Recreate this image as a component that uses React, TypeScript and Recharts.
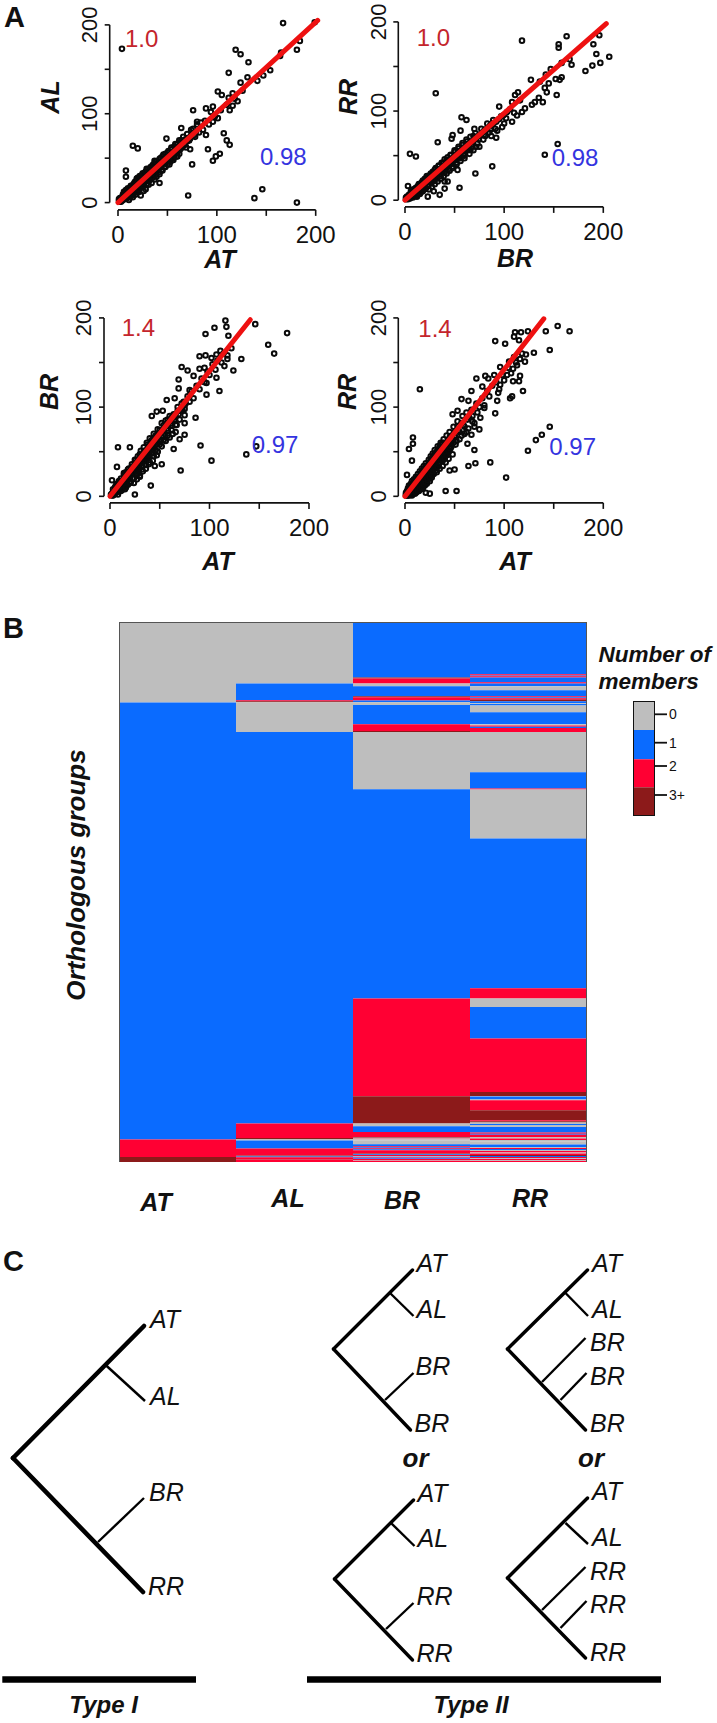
import { BarChart, Bar, Cell, ReferenceLine, Scatter, ScatterChart, XAxis, YAxis } from 'recharts'

const FONT = '"Liberation Sans", Arial, sans-serif'

// Panel A: expression values, as [x, y] pairs
const alVsAt = [[4,173],[167,202],[199,203],[119,172],[124,167],[132,158],[112,146],[164,165],[165,169],[181,172],[184,182],[154,149],[147,143],[141,137],[131,141],[124,135],[101,125],[105,121],[112,118],[116,123],[121,114],[116,109],[113,104],[96,108],[89,106],[94,102],[76,104],[101,95],[96,91],[80,91],[64,84],[74,82],[89,76],[107,78],[110,70],[113,65],[91,60],[103,55],[99,52],[96,47],[75,43],[73,60],[15,64],[20,61],[49,72],[8,36],[8,29],[42,22],[71,8],[138,5],[146,15],[181,0],
  [1,2],[2,5],[2,1],[3,1],[4,6],[4,2],[5,3],[5,9],[6,9],[6,4],[7,4],[7,12],[8,11],[8,6],[9,5],[9,14],[10,14],[10,7],[11,3],[11,10],[12,16],[12,8],[13,9],[13,19],[14,19],[14,11],[15,6],[15,16],[16,21],[16,12],[17,13],[17,23],[18,24],[18,9],[19,16],[19,27],[20,26],[20,14],[21,12],[21,24],[22,28],[22,17],[23,8],[23,20],[24,30],[24,22],[25,19],[25,33],[26,13],[26,27],[27,33],[27,23],[28,15],[29,38],[29,25],[30,26],[31,20],[31,34],[32,36],[33,28],[34,22],[35,42],[36,31],[37,26],[37,47],[38,46],[38,35],[39,29],[40,44],[41,36],[42,32],[43,50],[44,40],[45,36],[46,54],[47,44],[48,40],[50,56],[51,47],[52,43],[54,60],[55,51],[56,48],[58,66],[59,56],[60,52],[62,70],[63,60],[65,62],[66,74],[68,65],[69,62],[70,77],[72,70],[74,75],[76,83],[78,74],[80,88],[82,79],[84,90],[86,82],[88,92],[92,88],[98,97],[104,104],[110,110],[118,117],[126,126],
  [1,4],[3,5],[3,3],[5,7],[6,6],[7,7],[7,9],[8,8],[9,9],[9,11],[10,10],[10,12],[11,12],[11,7],[12,11],[12,13],[13,13],[13,15],[14,14],[14,16],[15,14],[15,18],[16,15],[16,18],[17,17],[17,20],[18,18],[18,21],[19,19],[19,22],[20,19],[20,23],[21,21],[21,18],[22,22],[22,25],[23,23],[23,26],[24,24],[24,27],[25,23],[25,28],[26,25],[26,30],[27,27],[28,28],[28,31],[29,29],[29,33],[30,30],[30,34],[31,30],[32,32],[32,29],[33,33],[33,37],[34,34],[34,38],[35,35],[35,32],[36,36],[36,40],[37,37],[38,38],[38,42],[39,40],[40,40],[40,37],[41,42],[42,42],[42,46],[43,44],[44,45],[45,45],[45,49],[46,47],[47,48],[48,50],[49,48],[50,50],[50,46],[52,53],[53,50],[54,55],[55,56],[56,57],[57,53],[58,59],[60,60],[61,58],[62,64],[64,64],[65,68],[67,66],[68,71],[70,69],[71,73],[73,72],[75,78],[77,76],[79,80],
  [6,12],[8,14],[10,16],[12,6],[14,8],[16,10],[18,12],[20,28],[21,15],[22,30],[24,17],[25,32],[26,19],[28,35],[29,21],[30,37],[32,25],[33,40],[35,28],[36,43],[38,31],[39,46],[41,34],[42,49],[44,37],[45,52],[47,40],[48,55],[50,43],[51,58],[53,46],[54,62],[56,50],[57,63],[59,52],[60,66],[62,55],[64,70]]

const rrVsBr = [[118,179],[163,184],[196,185],[190,175],[155,175],[155,171],[193,164],[206,161],[197,154],[189,151],[182,145],[168,152],[166,158],[158,154],[147,147],[142,141],[158,138],[152,136],[156,135],[127,135],[136,133],[145,131],[141,126],[143,121],[153,118],[31,120],[114,121],[111,118],[135,115],[131,110],[139,110],[128,107],[108,110],[121,103],[118,99],[113,95],[95,105],[103,99],[57,93],[62,90],[108,88],[98,82],[70,80],[56,78],[92,70],[48,73],[47,69],[33,65],[154,63],[141,51],[5,52],[11,49],[88,38],[53,34],[71,30],[55,14],[40,21],[43,21],[40,13],[35,6],[29,10],[23,4],[3,16],
  [1,1],[2,4],[3,1],[4,6],[5,2],[6,8],[7,4],[8,3],[9,12],[9,6],[10,8],[11,14],[12,6],[13,16],[14,9],[15,7],[15,18],[16,12],[17,20],[18,10],[19,14],[20,24],[21,13],[22,26],[23,17],[24,12],[25,28],[26,20],[27,15],[28,32],[29,23],[30,18],[31,36],[32,26],[33,21],[34,38],[35,29],[36,24],[37,42],[38,32],[39,27],[40,46],[41,35],[42,30],[43,48],[44,38],[45,33],[46,51],[47,41],[48,36],[50,56],[51,45],[52,40],[54,60],[55,48],[56,44],[58,64],[59,52],[60,47],[62,68],[63,56],[65,52],[66,71],[68,60],[69,56],[71,75],[73,64],[75,60],[77,80],[79,68],[81,72],[83,86],[85,76],[87,72],[89,90],[91,80],[93,78],[97,94],[100,86],[102,92],[106,102],[110,98],[116,112],
  [1,3],[2,2],[3,3],[4,3],[5,5],[6,5],[7,7],[8,7],[8,9],[9,9],[10,10],[10,12],[11,10],[12,12],[12,9],[13,12],[14,14],[14,12],[15,14],[16,16],[16,14],[17,16],[17,14],[18,18],[18,15],[19,18],[20,20],[20,17],[21,20],[21,23],[22,21],[23,23],[23,20],[24,23],[24,26],[25,24],[25,21],[26,25],[27,27],[27,24],[28,27],[29,28],[29,31],[30,29],[30,26],[31,30],[32,31],[32,28],[33,32],[33,35],[34,33],[35,34],[35,31],[36,35],[37,36],[37,33],[38,37],[39,38],[39,41],[40,39],[41,40],[41,37],[42,41],[43,42],[44,43],[44,40],[45,44],[46,45],[47,46],[47,43],[48,47],[49,48],[50,49],[50,46],[51,50],[52,51],[53,52],[54,53],[54,50],[56,55],[57,54],[58,57],[60,59],[60,55],[62,61],[64,63],[64,59],[66,65],[68,66],[68,63],[70,68],[72,70],[74,72],[74,68],[76,74],[78,76],[80,78],[80,74],[83,81],[86,84],[86,79],[89,86],[92,88],[95,91],[99,95],
  [6,10],[8,12],[10,5],[12,4],[14,18],[16,9],[18,22],[20,13],[22,27],[24,17],[26,30],[28,21],[30,34],[32,24],[34,39],[36,27],[38,42],[40,31],[42,45],[44,35],[46,50],[48,38],[50,54],[52,42],[54,58],[56,47],[58,62],[60,50],[63,66],[66,56],[69,72],[72,60]]

const brVsAt = [[116,197],[117,190],[105,189],[96,182],[119,180],[146,193],[178,183],[159,170],[165,160],[132,154],[122,166],[111,163],[90,157],[96,158],[102,155],[107,159],[118,154],[72,145],[78,141],[90,143],[95,144],[124,141],[115,146],[84,135],[69,131],[107,133],[97,127],[69,121],[80,119],[110,118],[97,114],[57,108],[65,110],[75,98],[86,88],[75,91],[75,82],[47,95],[53,96],[42,90],[67,80],[75,69],[63,70],[70,64],[91,57],[64,53],[8,55],[20,55],[147,56],[137,47],[102,40],[52,36],[45,34],[71,29],[41,12],[25,2],[7,33],[2,18],[30,22],
  [2,3],[3,8],[4,2],[5,10],[6,5],[7,14],[8,8],[8,2],[9,17],[10,11],[11,6],[11,20],[12,14],[13,9],[14,24],[15,17],[15,8],[16,27],[17,20],[18,13],[19,31],[20,24],[21,16],[22,36],[22,28],[23,20],[24,15],[25,41],[25,33],[26,25],[27,19],[28,45],[28,37],[29,30],[30,23],[31,51],[31,42],[32,34],[33,28],[34,55],[35,47],[35,39],[36,31],[37,60],[38,52],[38,44],[39,36],[40,65],[41,56],[42,48],[43,40],[44,70],[45,62],[46,52],[47,46],[48,75],[49,66],[50,58],[52,82],[53,72],[54,63],[56,85],[57,76],[58,68],[60,90],[61,82],[62,74],[64,92],[65,86],[66,80],[68,100],[69,92],[70,86],[72,104],[73,96],[75,102],[78,112],[80,106],[82,118],[84,110],[87,124],[90,120],[92,132],[95,128],[98,140],[100,136],[103,148],[106,142],[108,152],[112,150],[114,160],[118,158],
  [1,2],[2,1],[3,4],[3,1],[4,5],[5,7],[5,3],[6,9],[7,9],[7,5],[8,11],[9,13],[9,9],[10,14],[10,8],[11,15],[12,17],[12,11],[13,18],[13,14],[14,20],[14,15],[15,21],[16,22],[16,18],[17,24],[17,16],[18,25],[18,20],[19,27],[19,22],[20,28],[20,20],[21,30],[21,24],[22,31],[23,32],[23,27],[24,34],[24,26],[25,35],[26,37],[26,30],[27,38],[27,33],[28,40],[28,31],[29,41],[29,35],[30,42],[30,36],[31,44],[32,45],[32,38],[33,47],[33,40],[34,48],[34,42],[35,50],[36,51],[36,43],[37,52],[37,46],[38,54],[39,55],[39,47],[40,57],[40,50],[41,58],[42,60],[42,52],[43,61],[44,62],[44,55],[45,64],[46,65],[46,58],[47,67],[48,68],[48,60],[49,70],[50,71],[50,63],[52,74],[52,66],[54,76],[55,70],[56,79],[58,82],[58,74],[60,84],[62,88],[62,80],[64,88],[66,92],[68,96],[70,96],[72,98],[74,106],[76,104],
  [6,12],[8,5],[10,17],[12,7],[14,26],[16,10],[18,30],[20,15],[22,33],[24,20],[26,41],[28,25],[30,47],[32,30],[34,51],[36,35],[38,58],[40,38],[42,63],[44,45],[46,68],[48,50],[50,74],[52,56],[54,80],[56,62],[58,86],[60,66],[63,90],[66,72]]

const rrVsAt = [[154,191],[166,185],[142,185],[124,185],[111,184],[117,184],[110,179],[115,175],[91,174],[101,171],[146,164],[130,161],[122,159],[116,154],[121,151],[105,151],[113,147],[96,145],[109,143],[103,136],[90,136],[81,135],[72,132],[84,132],[116,135],[109,129],[115,129],[78,123],[96,125],[119,118],[94,116],[67,118],[57,109],[64,107],[108,112],[106,110],[93,107],[15,120],[80,99],[53,96],[48,92],[91,93],[76,88],[75,75],[67,69],[70,52],[63,59],[8,66],[8,59],[4,53],[7,40],[146,78],[138,69],[132,63],[124,51],[86,38],[71,37],[64,34],[50,30],[45,29],[102,21],[41,6],[52,6],[25,3],[21,4],[2,24],
  [1,2],[2,6],[2,1],[3,9],[3,3],[4,1],[4,12],[5,6],[5,2],[6,14],[6,9],[6,2],[7,4],[7,17],[8,11],[8,3],[9,6],[9,19],[10,14],[10,3],[11,8],[11,22],[12,16],[12,5],[13,10],[13,25],[14,19],[14,6],[15,12],[15,28],[16,22],[16,8],[17,15],[17,31],[18,25],[18,9],[19,18],[19,34],[20,28],[20,12],[21,21],[21,37],[22,30],[22,14],[23,24],[24,41],[24,33],[25,17],[25,27],[26,45],[26,36],[27,21],[27,30],[28,48],[28,39],[29,25],[30,52],[30,42],[31,33],[32,27],[33,56],[33,46],[34,37],[35,31],[36,60],[36,50],[37,41],[38,34],[39,64],[39,54],[40,45],[41,38],[42,68],[42,58],[43,49],[44,42],[45,72],[45,62],[46,54],[48,47],[49,78],[50,68],[51,58],[53,84],[54,74],[55,64],[58,90],[59,80],[60,70],[62,94],[63,86],[64,76],[67,97],[68,90],[70,82],[72,104],[73,94],[75,100],[78,110],[80,102],[83,118],[85,112],[88,124],[92,128],[95,120],[98,136],[100,130],[104,144],[107,138],[110,156],[112,150],[118,160],
  [1,1],[1,4],[2,3],[3,5],[3,1],[4,4],[4,8],[5,8],[5,4],[5,11],[6,6],[6,12],[7,8],[7,1],[7,13],[8,8],[8,13],[8,15],[9,11],[9,14],[10,8],[10,11],[10,17],[11,13],[11,4],[11,17],[12,10],[12,14],[12,20],[13,14],[13,18],[13,6],[14,12],[14,17],[14,22],[15,9],[15,17],[15,22],[16,14],[16,19],[16,25],[17,10],[17,20],[17,26],[18,16],[18,21],[18,29],[19,13],[19,24],[19,28],[20,17],[20,22],[20,31],[21,15],[21,26],[21,32],[22,20],[22,26],[22,34],[23,18],[23,29],[23,35],[24,22],[24,30],[24,37],[25,21],[25,33],[25,38],[26,26],[26,32],[26,40],[27,24],[27,35],[27,42],[28,28],[28,34],[28,44],[29,30],[29,38],[29,44],[30,32],[30,37],[30,47],[31,29],[31,40],[31,48],[32,34],[32,42],[32,50],[33,33],[33,42],[33,51],[34,36],[34,46],[34,53],[35,38],[35,44],[35,55],[36,40],[36,47],[37,44],[37,52],[37,58],[38,40],[38,50],[38,60],[39,46],[39,52],[40,42],[40,52],[40,60],[41,50],[41,56],[42,46],[42,54],[43,52],[43,60],[44,50],[44,58],[45,54],[45,66],[46,60],[47,56],[47,68],[48,64],[49,60],[50,72],[51,66],[52,62],[53,78],[55,72],[57,68],[57,82],[60,78],[62,72],[65,88],[68,84],[70,78]]

const fitAlAt = [[0, 0], [202, 205]]
const fitRrBr = [[0, 0], [203, 198]]
const fitBrAt = [[0, 0], [141, 198]]
const fitRrAt = [[0, 0], [140, 199]]

const scatterTicks = [0, 50, 100, 150, 200]
const shownTicks = [0, 100, 200]

// Panel B: [groups, members] runs from the top of each column
const orthoColumns = ['AT', 'AL', 'BR', 'RR']
const atRuns = [[80.6,0],[437,1],[17.4,2],[5,3]]
const alRuns = [[61.6,0],[16.7,1],[1,2],[1,3],[29.7,0],[391.6,1],[14.4,2],[1,3],[1.6,0],[8,1],[7,2],[1,3],[0.6,1],[1.8,2],[0.6,3],[2.4,2]]
const brRuns = [[55.6,1],[0.8,3],[5.2,2],[2.7,0],[10,1],[1,3],[3.3,2],[1.7,1],[2.7,0],[19.3,1],[6.7,2],[1,3],[57.3,0],[209.3,1],[97.7,2],[27.3,3],[2.7,0],[5.7,1],[5,2],[0.7,3],[1,0],[0.6,2],[1,0],[4,0],[2,1],[1,2],[1,1],[1,2],[1,1],[3.3,2],[0.7,3],[0.8,1],[0.8,2],[0.8,0],[0.8,1],[0.8,2],[0.8,1],[0.8,2],[0.8,0],[1.2,2]]
const rrRuns = [[52.3,1],[1.2,2],[0.8,1],[1.3,2],[4.7,1],[1.3,2],[2.7,1],[4,0],[6,1],[1,2],[1,1],[1.5,2],[1.5,3],[2,1],[0.8,0],[1.5,1],[6.7,0],[12,1],[1.3,0],[1.2,2],[1.2,1],[4,2],[40.3,0],[16.3,1],[1,2],[49,0],[149.7,1],[10.3,2],[8.4,0],[31.6,1],[53.4,2],[4,3],[0.6,0],[3,1],[0.7,0],[10,2],[10,3],[1,2],[1.3,3],[1.5,0],[0.8,1],[2.1,0],[5.6,1],[1.2,2],[1,1],[2.2,2],[1.5,0],[1.4,2],[1.4,0],[3.3,0],[2.3,1],[1,0],[1,2],[1,1],[1,0],[1.5,2],[1,0],[1.5,2],[1,3],[1,1],[1,2],[1,0],[1,2],[1,0],[1,2]]
const allRuns = [atRuns, alRuns, brRuns, rrRuns]
const memberColors = ['#bebebe', '#0a6bff', '#ff0033', '#8c1a1a']

const legendLabels = ['0', '1', '2', '3+']
const legendBands = [29, 29.3, 28, 28.7]
const legendTicks = [13.3, 41.7, 65, 94]

// Panel C: branches as [from, to]
const typeOneThick = [[[13,228],[144,96]],[[13,228],[143,362]]]
const typeOneThin = [[[105.6,135],[145,171]],[[98,312],[144,268]]]
const treeMain = [
  [[333.5,119],[412.5,40]],[[333.5,119],[410.5,200]],
  [[507.5,119],[587.5,40]],[[507.5,119],[585.5,200]],
  [[334.5,349],[413.5,270]],[[334.5,349],[412.5,430]],
  [[507.5,348],[587.5,268]],[[507.5,348],[585.5,428]],
]
const treeSide = [
  [[390,63],[413.5,86]],[[385,170],[413.5,143]],
  [[565.5,63],[588,86]],[[542,152],[585.5,108]],[[560.5,170],[586.5,143]],
  [[391,293],[414.5,316]],[[386,399],[413.5,373]],
  [[565.5,293],[588,314]],[[542,380],[585.5,337]],[[560.5,398],[586.5,371]],
]
const typeBars = [[[2.3,449.5],[196,449.5]],[[307,449.5],[661,449.5]]]

// label, x, baseline y
const treeLabels: [string, number, number][] = [
  ['AT',150,1328],['AL',150,1405],['BR',149,1501],['RR',148,1595],
  ['AT',416.5,1272],['AL',416.5,1318],['BR',415.5,1375],['BR',414.5,1432],
  ['AT',592,1272],['AL',592,1318],['BR',590,1351],['BR',590,1385],['BR',590,1432],
  ['AT',417.5,1502],['AL',417.5,1547],['RR',416.5,1605],['RR',416.5,1662],
  ['AT',592,1500],['AL',592,1546],['RR',590,1580],['RR',590,1613],['RR',590,1661],
]

const pts = (list: number[][]) => list.map(([x, y]) => ({ x, y }))
const noDot = () => null
const ring = ({ cx, cy }: any) => <circle cx={cx} cy={cy} r={2.3} fill="none" stroke="#0a0a0a" strokeWidth={2} />

const XTick = ({ x, y, payload }: any) =>
  shownTicks.includes(payload.value) ? (
    <text x={x} y={y + 25} textAnchor="middle" fontFamily={FONT} fontSize={24} fill="#111">{payload.value}</text>
  ) : null

const YTick = ({ x, y, payload }: any) =>
  shownTicks.includes(payload.value) ? (
    <text x={x - 5.5} y={y} transform={`rotate(-90 ${x - 5.5} ${y})`} textAnchor="middle" fontFamily={FONT} fontSize={22} fill="#111">{payload.value}</text>
  ) : null

const AXIS_MAX = 210

function ScatterPanel({ data, fit, x0, x200, y0, y200, axisX, axisY }: any) {
  const sx = (x200 - x0) / 200
  const sy = (y0 - y200) / 200
  const plotW = sx * AXIS_MAX
  const plotH = sy * AXIS_MAX
  const gapX = x0 - axisX
  const gapY = axisY - y0
  const left = 70
  const bottom = 70
  const top = 24
  const axisStyle = { stroke: '#111', strokeWidth: 1.6 }
  return (
    <div style={{ position: 'absolute', left: x0 - left, top: y0 - plotH - top }}>
      <ScatterChart width={left + plotW + 10} height={top + plotH + bottom} margin={{ top, right: 10, bottom: 0, left: 0 }}>
        <XAxis xAxisId="gap" type="number" dataKey="x" domain={[0, AXIS_MAX]} height={gapY} tick={false} axisLine={false} tickLine={false} />
        <XAxis xAxisId="main" type="number" dataKey="x" domain={[0, AXIS_MAX]} ticks={scatterTicks} interval={0} height={bottom - gapY} axisLine={false} tickLine={axisStyle} tickSize={6} tick={XTick} />
        <YAxis yAxisId="gap" type="number" dataKey="y" domain={[0, AXIS_MAX]} width={gapX} tick={false} axisLine={false} tickLine={false} />
        <YAxis yAxisId="main" type="number" dataKey="y" domain={[0, AXIS_MAX]} ticks={scatterTicks} interval={0} width={left - gapX} axisLine={false} tickLine={axisStyle} tickSize={5} tick={YTick} />
        <ReferenceLine xAxisId="main" yAxisId="main" ifOverflow="visible" segment={[{ x: 0, y: -gapY / sy }, { x: 200, y: -gapY / sy }]} {...axisStyle} />
        <ReferenceLine xAxisId="main" yAxisId="main" ifOverflow="visible" segment={[{ x: -gapX / sx, y: 0 }, { x: -gapX / sx, y: 200 }]} {...axisStyle} />
        <Scatter xAxisId="main" yAxisId="main" data={pts(data)} shape={ring} isAnimationActive={false} />
        <Scatter xAxisId="main" yAxisId="main" data={pts(fit)} shape={noDot} line={{ stroke: '#ee1111', strokeWidth: 5, strokeLinecap: 'round' }} isAnimationActive={false} />
      </ScatterChart>
    </div>
  )
}

function OrthoHeatmap() {
  const slots = Math.max(...allRuns.map((r) => r.length))
  const rows = orthoColumns.map((name, c) => {
    const row: Record<string, number | string> = { name }
    for (let i = 0; i < slots; i++) row[`s${i}`] = allRuns[c][i] ? allRuns[c][i][0] : 0
    return row
  })
  return (
    <div style={{ position: 'absolute', left: 118.5, top: 621.7 }}>
      <BarChart width={468} height={540} data={rows} margin={{ top: 0, right: 0, bottom: 0, left: 0 }} barCategoryGap={0} barGap={0}>
        <XAxis dataKey="name" hide />
        <YAxis type="number" domain={[0, 540]} reversed hide allowDataOverflow />
        {Array.from({ length: slots }, (_, i) => (
          <Bar key={i} dataKey={`s${i}`} stackId="a" isAnimationActive={false}>
            {orthoColumns.map((_n, c) => (
              <Cell key={c} fill={allRuns[c][i] ? memberColors[allRuns[c][i][1]] : 'none'} />
            ))}
          </Bar>
        ))}
      </BarChart>
      <div style={{ position: 'absolute', left: 0, top: 0, width: 468, height: 540, boxSizing: 'border-box', borderLeft: '1px solid #555', borderTop: '1px solid #555', borderRight: '1px solid #555' }} />
    </div>
  )
}

function MembersLegend() {
  const row: Record<string, number | string> = { name: 'members' }
  legendBands.forEach((v, i) => { row[`b${i}`] = v })
  return (
    <div style={{ position: 'absolute', left: 633, top: 701 }}>
      <BarChart width={74} height={115} data={[row]} margin={{ top: 0, right: 0, bottom: 0, left: 0 }} barCategoryGap={0} barGap={0}>
        <XAxis dataKey="name" hide />
        <YAxis
          type="number"
          orientation="right"
          width={52}
          domain={[0, 115]}
          reversed
          ticks={legendTicks}
          interval={0}
          axisLine={false}
          tickSize={12}
          tickMargin={2}
          tickLine={{ stroke: '#111', strokeWidth: 1.8 }}
          tick={{ fontSize: 14, fontFamily: FONT, fill: '#111' }}
          tickFormatter={(_v: number, i: number) => legendLabels[i]}
        />
        {legendBands.map((_v, i) => (
          <Bar key={i} dataKey={`b${i}`} stackId="l" fill={memberColors[i]} isAnimationActive={false} />
        ))}
      </BarChart>
      <div style={{ position: 'absolute', left: 0, top: 0, width: 22, height: 115, boxSizing: 'border-box', border: '1.5px solid #111' }} />
    </div>
  )
}

function Trees() {
  const branchSet = (list: number[][][], width: number, cap: string, key: string) =>
    list.map((b, i) => (
      <Scatter key={`${key}${i}`} data={pts(b)} shape={noDot} line={{ stroke: '#000', strokeWidth: width, strokeLinecap: cap }} isAnimationActive={false} />
    ))
  return (
    <div style={{ position: 'absolute', left: 0, top: 1230 }}>
      <ScatterChart width={717} height={493} margin={{ top: 0, right: 0, bottom: 0, left: 0 }}>
        <XAxis type="number" dataKey="x" domain={[0, 717]} hide />
        <YAxis type="number" dataKey="y" domain={[0, 493]} reversed hide />
        {branchSet(typeOneThick, 4.6, 'round', 'a')}
        {branchSet(typeOneThin, 2.4, 'butt', 'b')}
        {branchSet(treeMain, 3.4, 'round', 'c')}
        {branchSet(treeSide, 2.4, 'butt', 'd')}
        {branchSet(typeBars, 6.6, 'butt', 'e')}
      </ScatterChart>
    </div>
  )
}

const T = ({ x, y, size = 24, bold, italic, fill = '#111', anchor = 'start', rotate, children }: any) => (
  <text
    x={x}
    y={y}
    fontFamily={FONT}
    fontSize={size}
    fontWeight={bold ? 700 : 400}
    fontStyle={italic ? 'italic' : 'normal'}
    fill={fill}
    textAnchor={anchor}
    transform={rotate ? `rotate(-90 ${x} ${y})` : undefined}
  >
    {children}
  </text>
)

const RED = '#c4252c'
const BLUE = '#3434e0'

export default function App() {
  return (
    <div style={{ position: 'absolute', left: 0, top: 0, width: 717, height: 1723, overflow: 'hidden', background: '#fff' }}>
      <ScatterPanel data={alVsAt} fit={fitAlAt} x0={118.3} x200={316} y0={202.7} y200={25} axisX={110} axisY={210} />
      <ScatterPanel data={rrVsBr} fit={fitRrBr} x0={405} x200={603.3} y0={200} y200={21.7} axisX={398.3} axisY={206.7} />
      <ScatterPanel data={brVsAt} fit={fitBrAt} x0={110} x200={309} y0={496.7} y200={318.3} axisX={104} axisY={503.3} />
      <ScatterPanel data={rrVsAt} fit={fitRrAt} x0={405} x200={603.3} y0={496.7} y200={318.3} axisX={398.3} axisY={503.3} />
      <OrthoHeatmap />
      <MembersLegend />
      <Trees />
      <svg width={717} height={1723} style={{ position: 'absolute', left: 0, top: 0, pointerEvents: 'none' }}>
        <T x={4} y={27} size={29} bold>A</T>
        <T x={3} y={638} size={29} bold>B</T>
        <T x={3} y={1271} size={29} bold>C</T>

        <T x={125} y={47} fill={RED}>1.0</T>
        <T x={260} y={165} fill={BLUE}>0.98</T>
        <T x={220} y={268} size={25} bold italic anchor="middle">AT</T>
        <T x={59} y={97} size={25} bold italic anchor="middle" rotate>AL</T>

        <T x={416.7} y={46} fill={RED}>1.0</T>
        <T x={551.7} y={166} fill={BLUE}>0.98</T>
        <T x={515} y={266.7} size={25} bold italic anchor="middle">BR</T>
        <T x={357} y={97} size={25} bold italic anchor="middle" rotate>RR</T>

        <T x={121.7} y={335.7} fill={RED}>1.4</T>
        <T x={251.7} y={453.3} fill={BLUE}>0.97</T>
        <T x={218} y={570} size={25} bold italic anchor="middle">AT</T>
        <T x={58} y={392} size={25} bold italic anchor="middle" rotate>BR</T>

        <T x={418.3} y={336.7} fill={RED}>1.4</T>
        <T x={549.3} y={455} fill={BLUE}>0.97</T>
        <T x={515} y={570} size={25} bold italic anchor="middle">AT</T>
        <T x={355.7} y={392} size={25} bold italic anchor="middle" rotate>RR</T>

        <T x={85} y={875} size={26} bold italic anchor="middle" rotate>Orthologous groups</T>
        <T x={156} y={1211} size={25} bold italic anchor="middle">AT</T>
        <T x={288} y={1207} size={25} bold italic anchor="middle">AL</T>
        <T x={402} y={1209} size={25} bold italic anchor="middle">BR</T>
        <T x={530} y={1207} size={25} bold italic anchor="middle">RR</T>
        <T x={598.6} y={661.7} size={22.5} bold italic>Number of</T>
        <T x={598.6} y={689.3} size={22.5} bold italic>members</T>

        {treeLabels.map(([label, x, y], i) => (
          <T key={i} x={x} y={y} size={25} italic>{label}</T>
        ))}
        <T x={415.5} y={1467} size={26} bold italic anchor="middle">or</T>
        <T x={591} y={1467} size={26} bold italic anchor="middle">or</T>
        <T x={103.6} y={1713} size={24} bold italic anchor="middle">Type I</T>
        <T x={471} y={1713} size={24} bold italic anchor="middle">Type II</T>
      </svg>
    </div>
  )
}
